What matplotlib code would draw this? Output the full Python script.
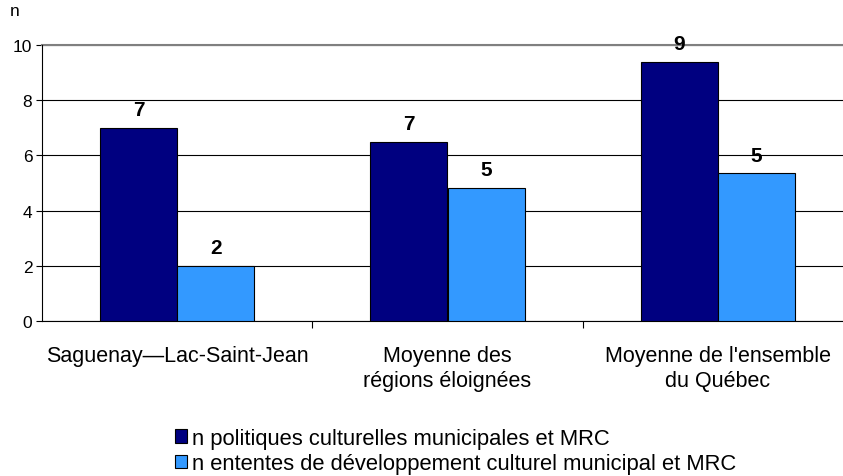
import numpy as np
import matplotlib
matplotlib.use("Agg")
import matplotlib.pyplot as plt

plt.rcParams['font.family'] = ['Liberation Sans', 'DejaVu Sans']

categories = ["Saguenay\u2014Lac-Saint-Jean", "Moyenne des\nr\u00e9gions \u00e9loign\u00e9es",
              "Moyenne de l'ensemble\ndu Qu\u00e9bec"]
politiques = [7.0, 6.5, 9.4]
ententes = [2.0, 4.83, 5.35]
labels_politiques = ["7", "7", "9"]
labels_ententes = ["2", "5", "5"]
series_names = ["n politiques culturelles municipales et MRC",
                "n ententes de d\u00e9veloppement culturel municipal et MRC"]

fig = plt.figure(figsize=(8.43, 4.77), dpi=100)
ax = fig.add_axes([42/843, 155/477, 811/843, 276/477])

x = np.arange(len(categories))
w = 1/3.5
b1 = ax.bar(x - w/2, politiques, w, color="#000080", edgecolor="black", linewidth=0.8,
            label=series_names[0], zorder=3)
b2 = ax.bar(x + w/2, ententes, w, color="#3399FF", edgecolor="black", linewidth=0.8,
            label=series_names[1], zorder=3)

for bars, labs in [(b1, labels_politiques), (b2, labels_ententes)]:
    for rect, lab in zip(bars, labs):
        ax.annotate(lab, (rect.get_x() + rect.get_width()/2, rect.get_height()),
                    xytext=(0, 6), textcoords="offset points", ha="center", va="bottom",
                    fontsize=15, fontweight="bold", zorder=4)

ax.set_xlim(-0.5, 2.5)
ax.set_ylim(0, 10)
ax.set_yticks([0, 2, 4, 6, 8, 10])
ax.yaxis.grid(True, color="black", linewidth=0.8, zorder=0)
ax.tick_params(axis="y", labelsize=12.5, length=4, width=0.8, pad=3)

ax.set_xticks(x)
ax.set_xticklabels(categories, fontsize=15.5, linespacing=1.25)
ax.set_xticks([0.5, 1.5, 2.5], minor=True)
ax.tick_params(axis="x", which="major", length=0, pad=17)
ax.tick_params(axis="x", which="minor", length=5, width=0.8)

for s in ["top", "right"]:
    ax.spines[s].set_visible(False)
ax.spines["left"].set_linewidth(0.8)
ax.spines["bottom"].set_linewidth(0.8)
ax.axhline(10, color="#808080", linewidth=1.5, zorder=2, clip_on=False)

fig.text(10/843, 1 - 12/477, "n", fontsize=12.5, va="center", ha="left")

fig.legend(handles=[b1, b2], loc="upper left", bbox_to_anchor=(166/843, 1 - 420/477),
           frameon=False, fontsize=15.8, handlelength=0.55, handleheight=0.55,
           handletextpad=0.25, labelspacing=0.2, borderaxespad=0)

fig.savefig("out.png", dpi=100)
